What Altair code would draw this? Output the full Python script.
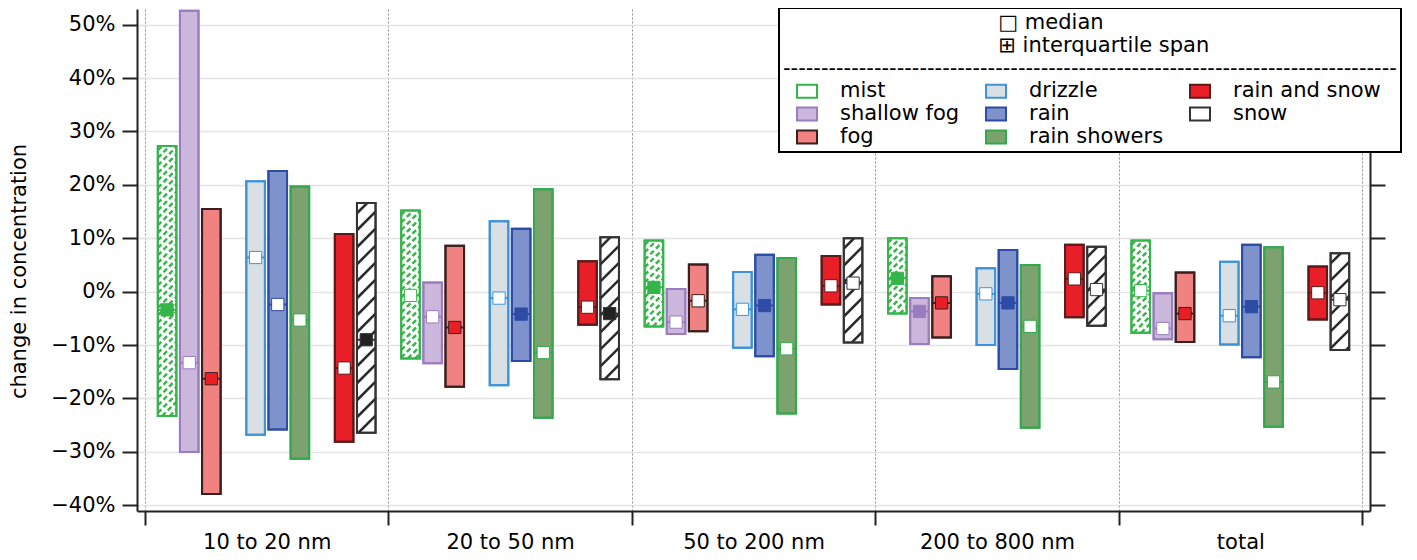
import altair as alt
import pandas as pd

# ---------------- data (percent change in concentration) ----------------
groups = ["10 to 20 nm", "20 to 50 nm", "50 to 200 nm", "200 to 800 nm", "total"]
types = ["mist", "shallow fog", "fog", "drizzle", "rain", "rain showers", "rain and snow", "snow"]

# upper quartile, lower quartile, median, median marked (1 = filled marker)
mist_hi = [27.3, 15.2, 9.6, 10.0, 9.6]
mist_lo = [-23.3, -12.5, -6.5, -4.1, -7.7]
mist_med = [-3.4, -0.7, 0.8, 2.5, 0.2]
mist_mark = [1, 0, 1, 1, 0]

shallow_fog_hi = [52.6, 1.7, 0.5, -1.2, -0.3]
shallow_fog_lo = [-30.0, -13.4, -7.9, -9.8, -8.9]
shallow_fog_med = [-13.3, -4.7, -5.7, -3.7, -6.9]
shallow_fog_mark = [0, 0, 0, 1, 0]

fog_hi = [15.5, 8.6, 5.1, 2.9, 3.6]
fog_lo = [-37.9, -17.8, -7.4, -8.6, -9.4]
fog_med = [-16.3, -6.7, -1.7, -2.1, -4.1]
fog_mark = [1, 1, 0, 1, 1]

drizzle_hi = [20.7, 13.2, 3.7, 4.4, 5.6]
drizzle_lo = [-26.8, -17.5, -10.5, -10.0, -9.9]
drizzle_med = [6.4, -1.2, -3.3, -0.4, -4.5]
drizzle_mark = [0, 0, 0, 0, 0]

rain_hi = [22.6, 11.8, 6.9, 7.8, 8.8]
rain_lo = [-25.8, -13.0, -12.1, -14.5, -12.3]
rain_med = [-2.4, -4.2, -2.6, -2.1, -2.8]
rain_mark = [0, 1, 1, 1, 1]

rain_showers_hi = [19.7, 19.2, 6.3, 5.0, 8.3]
rain_showers_lo = [-31.3, -23.6, -22.8, -25.5, -25.3]
rain_showers_med = [-5.3, -11.4, -10.7, -6.5, -16.9]
rain_showers_mark = [0, 0, 0, 0, 0]

rain_and_snow_hi = [10.8, 5.7, 6.7, 8.8, 4.7]
rain_and_snow_lo = [-28.1, -6.2, -2.4, -4.8, -5.2]
rain_and_snow_med = [-14.3, -2.9, 1.1, 2.4, -0.2]
rain_and_snow_mark = [0, 0, 0, 0, 0]

snow_hi = [16.6, 10.2, 10.0, 8.4, 7.2]
snow_lo = [-26.4, -16.4, -9.5, -6.4, -10.9]
snow_med = [-9.0, -4.1, 1.6, 0.4, -1.5]
snow_mark = [1, 1, 0, 0, 0]

y_ticks = [-40, -30, -20, -10, 0, 10, 20, 30, 40, 50]

# ---------------- styles / layout ----------------
FONT = "DejaVu Sans"
FS = 21
stats = {
    "mist": (mist_hi, mist_lo, mist_med, mist_mark),
    "shallow fog": (shallow_fog_hi, shallow_fog_lo, shallow_fog_med, shallow_fog_mark),
    "fog": (fog_hi, fog_lo, fog_med, fog_mark),
    "drizzle": (drizzle_hi, drizzle_lo, drizzle_med, drizzle_mark),
    "rain": (rain_hi, rain_lo, rain_med, rain_mark),
    "rain showers": (rain_showers_hi, rain_showers_lo, rain_showers_med, rain_showers_mark),
    "rain and snow": (rain_and_snow_hi, rain_and_snow_lo, rain_and_snow_med, rain_and_snow_mark),
    "snow": (snow_hi, snow_lo, snow_med, snow_mark),
}
slot = {"mist": 0, "shallow fog": 1, "fog": 2, "drizzle": 4, "rain": 5,
        "rain showers": 6, "rain and snow": 8, "snow": 9}
fill_col = {"mist": "#ffffff", "shallow fog": "#cbb7dc", "fog": "#f08282", "drizzle": "#d8e0e6",
            "rain": "#7e92cc", "rain showers": "#7ca26f", "rain and snow": "#e81f27", "snow": "#ffffff"}
stroke_col = {"mist": "#35b44a", "shallow fog": "#9a7dbf", "fog": "#3b1f1f", "drizzle": "#3d93d6",
              "rain": "#2e4ba5", "rain showers": "#33a84d", "rain and snow": "#5b1b1b", "snow": "#333333"}
med_col = {"mist": "#35b44a", "shallow fog": "#9a7dbf", "fog": "#e81f27", "drizzle": "#3d93d6",
           "rain": "#2e4ba5", "rain showers": "#33a84d", "rain and snow": "#5b1b1b", "snow": "#222222"}

W, H = 1233, 502
XMIN, XMAX = -0.36, 55.36
YMIN, YMAX = -41.07, 52.94
GU = 11          # x units per size range
HALF = 0.42      # half bar width in x units
PXX = W / (XMAX - XMIN)
PXY = H / (YMAX - YMIN)

rows = []
for t in types:
    hi, lo, med, mk = stats[t]
    for g in range(len(groups)):
        c = g * GU + slot[t] + 1
        rows.append({"type": t, "group": groups[g], "c": c, "x0": c - HALF, "x1": c + HALF,
                     "hi": hi[g], "lo": lo[g], "med": med[g],
                     "scol": stroke_col[t],
                     "mfill": med_col[t] if mk[g] else "#ffffff"})
df = pd.DataFrame(rows)


def hatch(t, spacing):
    out = []
    for r in rows:
        if r["type"] != t:
            continue
        wpx = (r["x1"] - r["x0"]) * PXX
        hpx = (r["hi"] - r["lo"]) * PXY
        k = spacing * 0.6
        while k < wpx + hpx:
            u0 = max(0.0, k - hpx)
            v0 = k - u0
            u1 = min(wpx, k)
            v1 = k - u1
            out.append({"x": r["x0"] + u0 / PXX, "y": r["hi"] - v0 / PXY,
                        "x2": r["x0"] + u1 / PXX, "y2": r["hi"] - v1 / PXY})
            k += spacing
    return pd.DataFrame(out)


xs = alt.Scale(domain=[XMIN, XMAX], nice=False, zero=False)
ys = alt.Scale(domain=[YMIN, YMAX], nice=False, zero=False)

boundaries = [g * GU for g in range(len(groups) + 1)]
centers = [g * GU + GU / 2 for g in range(len(groups))]
names = ",".join("'" + s + "'" for s in groups)

# boundary ticks + dotted separators
xaxis_ticks = alt.Axis(values=boundaries, title=None, orient="bottom", grid=True, gridDash=[2, 2],
                       gridColor="#8c8c8c", gridWidth=1, tickSize=14, tickWidth=2,
                       tickColor="#222222", domainColor="#222222", domainWidth=2, labels=False)
# size-range labels centred between the boundaries
xaxis_labels = alt.Axis(values=centers, title=None, orient="bottom", grid=False, ticks=False,
                        tickSize=0, domain=False,
                        labelExpr=f"[{names}][floor(datum.value / {GU})]",
                        labelFont=FONT, labelFontSize=FS, labelColor="black", labelPadding=20,
                        labelFlush=False, labelOverlap=False)

yaxis = alt.Axis(values=y_ticks, title="change  in concentration", grid=True,
                 gridColor="#e4e4e4", gridWidth=1.5, tickSize=15, tickWidth=2,
                 tickColor="#222222", domainColor="#222222", domainWidth=2,
                 labelExpr="(datum.value < 0 ? '\u2212' : '') + abs(datum.value) + '%'",
                 labelFont=FONT, labelFontSize=FS, labelColor="black", labelPadding=7,
                 titleFont=FONT, titleFontSize=FS, titleFontWeight="normal", titleColor="black",
                 titleX=-112, titleY=262, titleBaseline="alphabetic", titleAlign="center")

yaxis_right = alt.Axis(values=y_ticks, orient="right", title=None, grid=False, labels=False,
                       tickSize=15, tickWidth=2, tickColor="#222222", domainColor="#222222",
                       domainWidth=2)

INDENT = "\u2800" * 14
leg = alt.Legend(
    title=[INDENT + "\u25a1 median", INDENT + "\u229e interquartile span", "-" * 81],
    orient="none", legendX=642, legendY=-1, columns=3, direction="vertical", gridAlign="each",
    titleFont=FONT, titleFontSize=FS, titleFontWeight="normal", titleColor="black",
    titleAlign="left", titleAnchor="start", titleLimit=2000, titleLineHeight=23,
    titlePadding=1,
    labelFont=FONT, labelFontSize=FS, labelColor="black", labelLimit=500, labelOffset=22,
    symbolOffset=13, symbolType="M-1,-0.65L1,-0.65L1,0.65L-1,0.65Z", symbolSize=400,
    symbolStrokeWidth=2, rowPadding=1, columnPadding=12, padding=4,
    strokeColor="black", fillColor="white", zindex=5,
)

bars = alt.Chart(df).mark_rect(strokeWidth=2).encode(
    x=alt.X("x0:Q", scale=xs, axis=xaxis_ticks), x2="x1:Q",
    y=alt.Y("hi:Q", scale=ys, axis=yaxis), y2="lo:Q",
    fill=alt.Fill("type:N", scale=alt.Scale(domain=types,
                                            range=[fill_col[t] for t in types]), legend=leg),
    stroke=alt.Stroke("type:N", scale=alt.Scale(domain=types,
                                                range=[stroke_col[t] for t in types]), legend=leg),
)

hatch_mist = alt.Chart(hatch("mist", 7.5)).mark_rule(
    strokeWidth=2.4, color=stroke_col["mist"], strokeDash=[5, 3]).encode(
    x=alt.X("x:Q", scale=xs, axis=None), x2="x2:Q",
    y=alt.Y("y:Q", scale=ys, axis=None), y2="y2:Q")

hatch_snow = alt.Chart(hatch("snow", 17)).mark_rule(
    strokeWidth=2.5, color="#2a2a2a").encode(
    x=alt.X("x:Q", scale=xs, axis=None), x2="x2:Q",
    y=alt.Y("y:Q", scale=ys, axis=None), y2="y2:Q")

borders = alt.Chart(df).mark_rect(filled=False, strokeWidth=2).encode(
    x=alt.X("x0:Q", scale=xs, axis=None), x2="x1:Q",
    y=alt.Y("hi:Q", scale=ys, axis=None), y2="lo:Q",
    stroke=alt.Stroke("scol:N", scale=None))

medline = alt.Chart(df).mark_rule(strokeWidth=2).encode(
    x=alt.X("x0:Q", scale=xs, axis=None), x2="x1:Q",
    y=alt.Y("med:Q", scale=ys, axis=yaxis_right),
    stroke=alt.Stroke("scol:N", scale=None))

medsq = alt.Chart(df).mark_square(size=150, filled=True, strokeWidth=1, opacity=1).encode(
    x=alt.X("c:Q", scale=xs, axis=xaxis_labels),
    y=alt.Y("med:Q", scale=ys, axis=None),
    fill=alt.Fill("mfill:N", scale=None),
    stroke=alt.Stroke("scol:N", scale=None))

chart = alt.layer(bars, hatch_mist, hatch_snow, borders, medline, medsq).resolve_axis(
    x="independent", y="independent"
).properties(
    width=W, height=H,
    autosize=alt.AutoSizeParams(type="none"),
    padding={"left": 129, "top": 1, "right": 39, "bottom": 41},
).configure(font=FONT).configure_view(strokeWidth=0).configure_legend(strokeWidth=2)

chart.save("out.html", embed_options={"renderer": "svg", "actions": False})
